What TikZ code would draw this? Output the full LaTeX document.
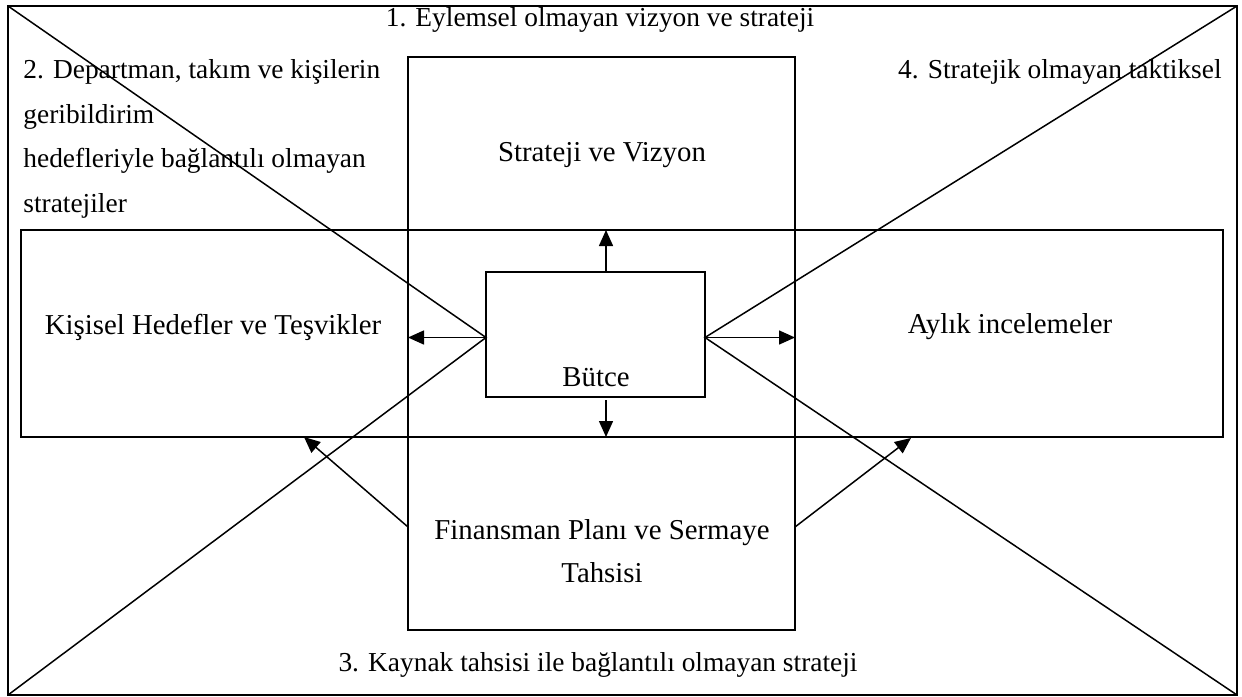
\documentclass[tikz,border=0pt]{standalone}
\usepackage{fontspec}
\setmainfont{Liberation Serif}
\usetikzlibrary{arrows.meta}
\begin{document}
\begin{tikzpicture}[x=0.5pt,y=-0.5pt,
  line/.style={line width=0.75pt},
  panel/.style={draw, line width=0.75pt, inner sep=0pt, outer sep=0pt},
  arr/.style={line width=0.75pt, -{Triangle[length=8pt,width=7pt]}},
  lbl/.style={inner sep=0pt, font=\fontsize{14.4}{21.5}\selectfont},
  note/.style={inner sep=0pt, font=\fontsize{13.7}{22.2}\selectfont}]
\useasboundingbox (0,0) rectangle (1242,696);

% outer frame
\node[panel, line width=1.2pt, minimum width=614.5pt, minimum height=344.5pt] (frame) at (622.5,350.5) {};

% horizontal band and vertical column
\node[panel, minimum width=601pt, minimum height=103.5pt] (band) at (622,333.5) {};
\node[panel, minimum width=193.5pt, minimum height=286.5pt] (plan) at (601.5,343.5) {};

% central budget box
\node[panel, minimum width=109.5pt, minimum height=62.5pt] (butce) at (595.5,334.5) {};
\coordinate (bw) at ([yshift=-1.5pt]butce.west);
\coordinate (be) at ([yshift=-1.5pt]butce.east);

% diagonals from the frame corners to the budget box
\draw[line] (frame.north west) -- (bw) -- (frame.south west);
\draw[line] (frame.north east) -- (be) -- (frame.south east);

% arrows out of the budget box
\draw[arr] ([xshift=5.25pt]butce.north) -- ([xshift=5.25pt]butce.north |- band.north);
\draw[arr] ([xshift=5.25pt,yshift=-1.5pt]butce.south) -- ([xshift=5.25pt]butce.south |- band.south);
\draw[arr] (bw) -- (bw -| plan.west);
\draw[arr] (be) -- (be -| plan.east);

% arrows from the financing plan to the side boxes
\coordinate (fl) at (408,527);
\coordinate (tl) at (304,437);
\coordinate (fr) at (795,527);
\coordinate (tr) at (911,438);
\draw[arr] (fl) -- (tl);
\draw[arr] (fr) -- (tr);

% box labels
\node[lbl] (sv) at (602,155) {Strateji ve Vizyon};
\node[lbl] (kh) at (213,327) {Kişisel Hedefler ve Teşvikler};
\node[lbl] (ai) at (1010,327) {Aylık incelemeler};
\node[lbl] (bt) at (596,377) {Bütce};
\node[lbl, align=center] (fp) at (602,551) {Finansman Planı ve Sermaye\\Tahsisi};

% numbered notes
\node[note] (n1) at (600,20) {1. Eylemsel olmayan vizyon ve strateji};
\node[note, align=left, anchor=west] (n2) at (23,139) {2. Departman, takım ve kişilerin\\geribildirim\\hedefleriyle bağlantılı olmayan\\stratejiler};
\node[note] (n3) at (598,665) {3. Kaynak tahsisi ile bağlantılı olmayan strateji};
\node[note, anchor=east] (n4) at (1222,72) {4. Stratejik olmayan taktiksel};
\end{tikzpicture}
\end{document}
